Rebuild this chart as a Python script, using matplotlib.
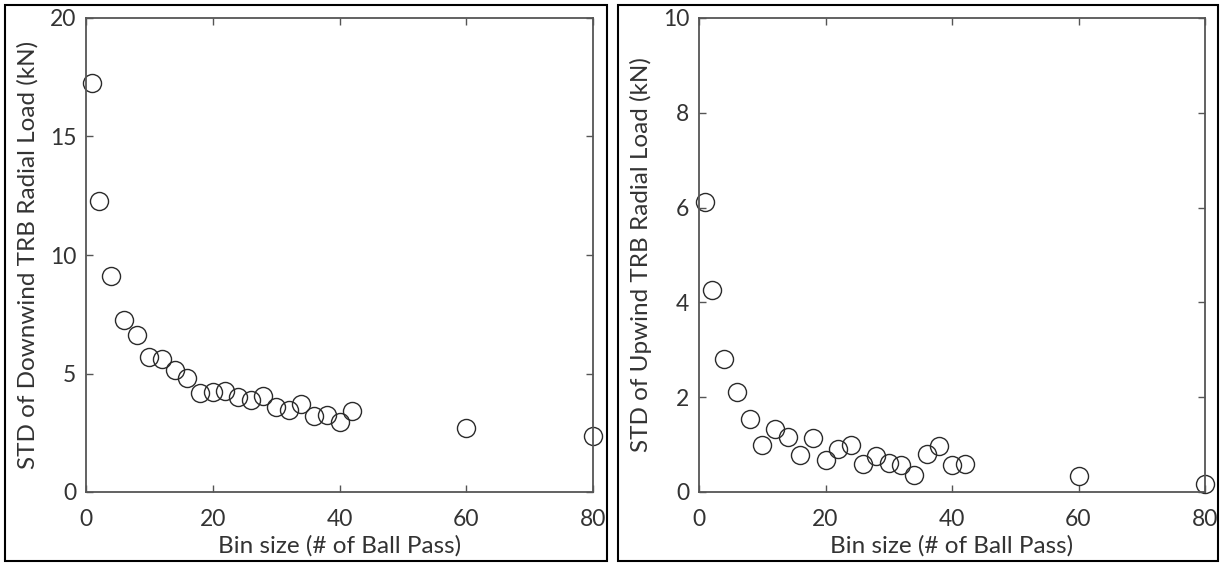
import matplotlib
matplotlib.use("Agg")
import matplotlib.pyplot as plt
from matplotlib.patches import Rectangle

# Bin sizes (# of ball passes)
bin_size = [1, 2, 4, 6, 8, 10, 12, 14, 16, 18, 20, 22, 24, 26, 28, 30,
            32, 34, 36, 38, 40, 42, 60, 80]

# Standard deviation of radial load (kN)
std_downwind = [17.27, 12.29, 9.13, 7.27, 6.61, 5.68, 5.62, 5.15, 4.81, 4.18,
                4.24, 4.28, 3.99, 3.90, 4.05, 3.60, 3.45, 3.72, 3.22, 3.26,
                2.96, 3.40, 2.72, 2.35]
std_upwind = [6.11, 4.26, 2.80, 2.10, 1.54, 0.99, 1.33, 1.16, 0.78, 1.13,
              0.68, 0.90, 1.00, 0.60, 0.75, 0.62, 0.57, 0.36, 0.81, 0.96,
              0.57, 0.60, 0.34, 0.17]

x_ticks = [0, 20, 40, 60, 80]
y_ticks_down = [0, 5, 10, 15, 20]
y_ticks_up = [0, 2, 4, 6, 8, 10]

xlabel = "Bin size (# of Ball Pass)"
ylabel_down = "STD of Downwind TRB Radial Load (kN)"
ylabel_up = "STD of Upwind TRB Radial Load (kN)"

plt.rcParams["font.family"] = ["Lato", "DejaVu Sans"]

W, H = 1225, 564
fig = plt.figure(figsize=(W / 100, H / 100), dpi=100)

axis_color = "#555555"
text_color = "#333333"


def panel(rect, y, yticks, ylabel):
    ax = fig.add_axes(rect)
    ax.plot(bin_size, y, linestyle="none", marker="o", markersize=13,
            markerfacecolor="none", markeredgecolor="#2a2a2a",
            markeredgewidth=1.0, clip_on=False)
    ax.set_xlim(0, 80)
    ax.set_ylim(yticks[0], yticks[-1])
    ax.set_xticks(x_ticks)
    ax.set_yticks(yticks)
    ax.tick_params(direction="in", length=5, width=1, colors=axis_color,
                   labelcolor=text_color, labelsize=16.5, top=True, right=True)
    ax.tick_params(axis="x", pad=12)
    ax.tick_params(axis="y", pad=7)
    for s in ax.spines.values():
        s.set_color(axis_color)
        s.set_linewidth(1.3)
    ax.set_xlabel(xlabel, fontsize=17.5, color=text_color, labelpad=4)
    ax.set_ylabel(ylabel, fontsize=17.5, color=text_color, labelpad=8)
    return ax


def frac(x0, y0, x1, y1):
    return [x0 / W, 1 - y1 / H, (x1 - x0) / W, (y1 - y0) / H]


panel(frac(86, 18, 593, 492), std_downwind, y_ticks_down, ylabel_down)
panel(frac(699, 18, 1205, 492), std_upwind, y_ticks_up, ylabel_up)

# Outer frames around each panel
for x0, x1 in [(5, 607), (618, 1218)]:
    fig.patches.append(Rectangle((x0 / W, 1 - 561 / H), (x1 - x0) / W,
                                 (561 - 5) / H, transform=fig.transFigure,
                                 fill=False, edgecolor="black", linewidth=1.5))

fig.savefig("out.png", dpi=100, facecolor="white")
